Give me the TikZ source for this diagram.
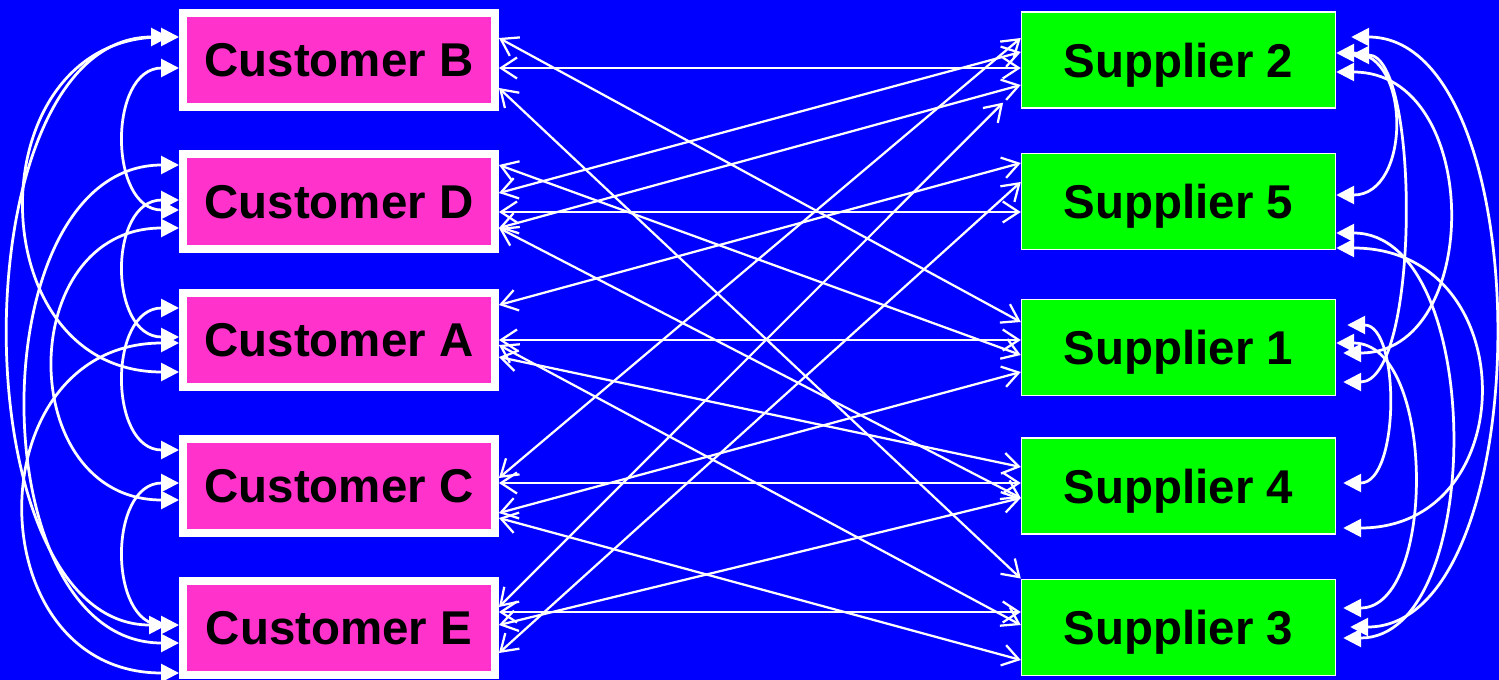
\documentclass[tikz,border=0pt]{standalone}
\usepackage{fontspec}
\setmainfont{Liberation Sans}
\usetikzlibrary{arrows.meta}
\definecolor{bgblue}{RGB}{0,0,255}
\definecolor{custpink}{RGB}{255,51,204}
\definecolor{suppgreen}{RGB}{0,255,0}
\begin{document}
\begin{tikzpicture}[x=0.02cm, y=-0.02cm,
		cust/.style={draw=white, line width=1.6mm, fill=custpink, minimum width=6.24cm, minimum height=1.9cm, inner sep=0pt, text depth=0pt, font=\fontsize{27}{32}\selectfont\bfseries},
		supp/.style={draw=white, line width=0.3mm, fill=suppgreen, minimum width=6.28cm, minimum height=1.93cm, inner sep=0pt, text depth=0pt, font=\fontsize{27}{32}\selectfont\bfseries},
		trade/.style={white, line width=0.45mm, {Straight Barb[length=3.2mm,width=4.2mm]}-{Straight Barb[length=3.2mm,width=4.2mm]}},
		swing/.style={white, line width=0.55mm, {Triangle[length=3.6mm,width=3.6mm]}-{Triangle[length=3.6mm,width=3.6mm]}}]
			\useasboundingbox (0,0) rectangle (1499,680);
			\fill[bgblue] (0,0) rectangle (1499,680);

			\node[cust] (cB) at (339,60) {Customer B};
			\node[cust] (cD) at (339,201.5) {Customer D};
			\node[cust] (cA) at (339,340) {Customer A};
			\node[cust] (cC) at (339,486) {Customer C};
			\node[cust] (cE) at (339,628) {Customer E};

			\node[supp] (s2) at (1178.5,60) {Supplier 2};
			\node[supp] (s5) at (1178.5,201.5) {Supplier 5};
			\node[supp] (s1) at (1178.5,347.5) {Supplier 1};
			\node[supp] (s4) at (1178.5,486) {Supplier 4};
			\node[supp] (s3) at (1178.5,627.5) {Supplier 3};

			\draw[trade] (cB.east |- 0,38) -- (s1.west |- 0,322);
			\draw[trade] (cB.east |- 0,68) -- (s2.west |- 0,68);
			\draw[trade] (cB.east |- 0,88) -- (s3.north west);
			\draw[trade] (cD.east |- 0,165) -- (s1.west |- 0,355);
			\draw[trade] (cD.east |- 0,193) -- (s2.west |- 0,52);
			\draw[trade] (cD.east |- 0,212) -- (s5.west |- 0,212);
			\draw[trade] (cD.east |- 0,228) -- (s2.west |- 0,85);
			\draw[trade] (cD.east |- 0,228) -- (s4.west |- 0,498);
			\draw[trade] (cA.east |- 0,305) -- (s5.west |- 0,163);
			\draw[trade] (cA.east |- 0,340) -- (s1.west |- 0,340);
			\draw[trade] (cA.east |- 0,345) -- (s3.west |- 0,625);
			\draw[trade] (cA.east |- 0,357) -- (s4.west |- 0,467);
			\draw[trade] (cC.east |- 0,478) -- (s2.west |- 0,38);
			\draw[trade] (cC.east |- 0,483) -- (s4.west |- 0,483);
			\draw[trade] (cC.east |- 0,513) -- (s1.west |- 0,372);
			\draw[trade] (cC.east |- 0,518) -- (s3.west |- 0,660);
			\draw[trade, shorten >=5mm] (cE.east |- 0,607) -- (s2.west |- 0,85);
			\draw[trade] (cE.east |- 0,612) -- (s3.west |- 0,612);
			\draw[trade] (cE.east |- 0,625) -- (s4.west |- 0,498);
			\draw[trade] (cE.east |- 0,653) -- (s5.west |- 0,182);

			\draw[swing] (cB.west |- 0,68) .. controls +(-71,0) and +(-71,0) .. (cD.west |- 0,210);
			\draw[swing] (cD.west |- 0,200) .. controls +(-71,0) and +(-71,0) .. (cA.west |- 0,337);
			\draw[swing] (cA.west |- 0,308) .. controls +(-71,0) and +(-71,0) .. (cC.west |- 0,450);
			\draw[swing] (cC.west |- 0,483) .. controls +(-71,0) and +(-71,0) .. (cE.west |- 0,625);
			\draw[swing] (cB.west |- 0,37) .. controls +(-203,0) and +(-203,0) .. (cA.west |- 0,372);
			\draw[swing, shorten <=2mm, shorten >=2.4mm] (cB.west |- 0,37) .. controls +(-221,0) and +(-221,0) .. (cE.west |- 0,625);
			\draw[swing] (cD.west |- 0,228) .. controls +(-165,0) and +(-165,0) .. (cC.west |- 0,500);
			\draw[swing] (cD.west |- 0,165) .. controls +(-201,0) and +(-201,0) .. (cE.west |- 0,643);
			\draw[swing] (cA.west |- 0,343) .. controls +(-204,0) and +(-204,0) .. (cE.west |- 0,673);

			\draw[swing] (s2.east |- 0,53) .. controls +(75,0) and +(75,0) .. (s5.east |- 0,195);
			\draw[swing, shorten <=3mm, shorten >=2.8mm] (s2.east |- 0,37) .. controls +(205,0) and +(205,0) .. (s3.east |- 0,627);
			\draw[swing, shorten <=3mm, shorten >=1.4mm] (s2.east |- 0,55) .. controls +(84,0) and +(84,0) .. (s1.east |- 0,382);
			\draw[swing, shorten >=1.4mm] (s2.east |- 0,72) .. controls +(147,0) and +(147,0) .. (s1.east |- 0,353);
			\draw[swing, shorten >=1.4mm] (s5.east |- 0,233) .. controls +(150,0) and +(150,0) .. (s3.east |- 0,638);
			\draw[swing, shorten >=1.4mm] (s5.east |- 0,248) .. controls +(188,0) and +(188,0) .. (s4.east |- 0,528);
			\draw[swing, shorten <=2.2mm, shorten >=1.4mm] (s1.east |- 0,325) .. controls +(64,0) and +(64,0) .. (s4.east |- 0,483);
			\draw[swing, shorten >=1.4mm] (s1.east |- 0,343) .. controls +(100,0) and +(100,0) .. (s3.east |- 0,608);
		\end{tikzpicture}
\end{document}
